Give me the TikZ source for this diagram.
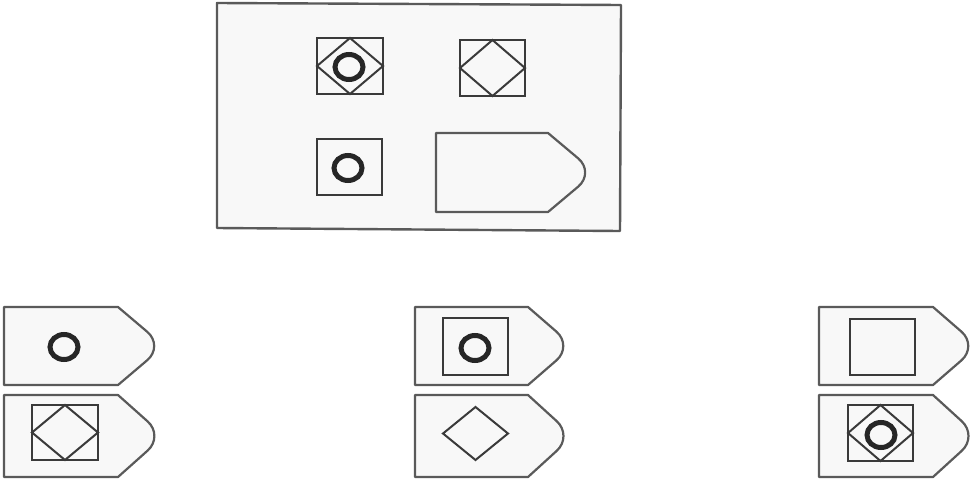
\documentclass[tikz,border=0pt]{standalone}
\usetikzlibrary{calc}
\definecolor{edge}{HTML}{5A5A5A}
\definecolor{ink}{HTML}{3A3A3A}
\definecolor{ring}{HTML}{262626}
\definecolor{paper}{HTML}{F8F8F8}
\tikzset{
  framebox/.style={draw=edge,line width=2.4pt,fill=paper,line join=round},
  tagbox/.style={draw=edge,line width=2.2pt,fill=paper,line join=round},
  sqbox/.style={draw=ink,line width=2.1pt},
  diam/.style={draw=ink,line width=2pt,line join=miter},
  ringc/.style={draw=ring,line width=5pt}
}
% tag: x0 y0 xs xt y1
\newcommand{\tagshape}[5]{%
  \draw[tagbox] (#1,#2) -- (#3,#2) [rounded corners=22pt] -- (#4,{(#2+#5)/2}) [sharp corners] -- (#3,#5) -- (#1,#5) -- cycle;}
% square: x0 x1 y0 y1 ; diamond inscribed in the same box
\newcommand{\sqr}[4]{\draw[sqbox] (#1,#3) rectangle (#2,#4);}
\newcommand{\dmd}[4]{\draw[diam] ({(#1+#2)/2},#3) -- (#2,{(#3+#4)/2}) -- ({(#1+#2)/2},#4) -- (#1,{(#3+#4)/2}) -- cycle;}
\newcommand{\rng}[2]{\draw[ringc] (#1,#2) ellipse [x radius=14pt, y radius=12.5pt];}
\begin{document}
\begin{tikzpicture}[x=1pt,y=-1pt]
\useasboundingbox (0,0) rectangle (979,479);
\fill[white] (0,0) rectangle (979,479);
% main frame
\draw[framebox] (217,3) -- (621,5) -- (620,231) -- (217,228) -- cycle;
% main contents
\sqr{317}{383}{38}{94}\dmd{317}{383}{38}{94}\rng{349}{67}
\sqr{460}{525}{40}{96}\dmd{460}{525}{40}{96}
\sqr{317}{382}{139}{195}\rng{348}{168}
\tagshape{436}{133}{548}{595}{212}
% answer A
\tagshape{4}{307}{118}{164}{385}
\rng{64}{347}
\tagshape{4}{395}{118}{164}{477}
\sqr{32}{98}{405}{460}\dmd{32}{98}{405}{460}
% answer B
\tagshape{415}{307}{528}{573}{385}
\sqr{443}{508}{318}{375}\rng{475}{348}
\tagshape{415}{395}{528}{573}{477}
\dmd{443}{508}{407}{460}
% answer C
\tagshape{819}{307}{933}{978}{385}
\sqr{850}{915}{319}{375}
\tagshape{819}{395}{933}{978}{477}
\sqr{848}{913}{405}{461}\dmd{848}{913}{405}{461}\rng{881}{435}
\end{tikzpicture}
\end{document}
